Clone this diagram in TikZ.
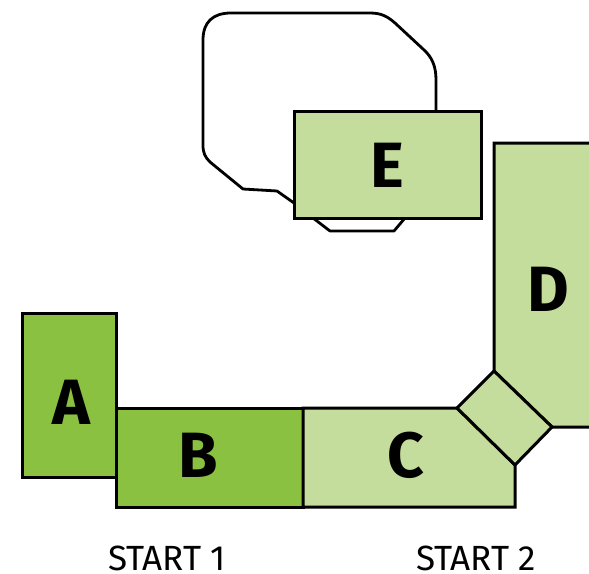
\documentclass[tikz,border=0pt]{standalone}
\usepackage{fontspec}
\setmainfont{Fira Sans}
\definecolor{dkgreen}{HTML}{8AC140}
\definecolor{ltgreen}{HTML}{C4DC9C}
\tikzset{
  zone/.style={draw=black, line width=3pt, line join=miter},
  dark/.style={zone, fill=dkgreen},
  light/.style={zone, fill=ltgreen},
  track/.style={draw=black, line width=2.8pt, line join=round, line cap=round},
  letter/.style={font=\fontsize{64}{64}\selectfont\bfseries, inner sep=0pt},
  startlbl/.style={font=\fontsize{35}{35}\selectfont, inner sep=0pt}
}
\begin{document}
\begin{tikzpicture}[x=1pt,y=-1pt]
\useasboundingbox (0,0) rectangle (589,573);
% loop track behind E
\draw[track] (294,203) -- (277,191) -- (243,189) -- (210,162)
  .. controls (205,157) and (203,153) .. (203,145) -- (203,40)
  .. controls (203,22) and (213,13) .. (231,13) -- (370,13)
  .. controls (382,13) and (388,17) .. (395,23) -- (423,49)
  .. controls (432,57) and (436,66) .. (436,80) -- (436,111);
\draw[track] (313,218) -- (330,231) -- (394,231) -- (405,218);
% E
\draw[light] (294,111) rectangle (481,218);
% A and B
\draw[dark] (22,313) rectangle (116,477);
\draw[dark] (116,408) rectangle (303,507);
% C
\draw[light] (303,408) -- (457,408) -- (515,465) -- (515,507) -- (303,507) -- cycle;
% D
\draw[light] (494,143) -- (592,143) -- (592,427) -- (552,427) -- (494,371) -- cycle;
% connector square
\draw[light] (457,408) -- (494,371) -- (552,427) -- (515,465) -- cycle;
% labels
\node[letter] (la) at (71,402) {A};
\node[letter] (lb) at (198,455) {B};
\node[letter] (lc) at (406,455) {C};
\node[letter] (ld) at (548,289) {D};
\node[letter] (le) at (387,165) {E};
\node[startlbl] (s1) at (167,558) {START 1};
\node[startlbl] (s2) at (476,558) {START 2};
\end{tikzpicture}
\end{document}
